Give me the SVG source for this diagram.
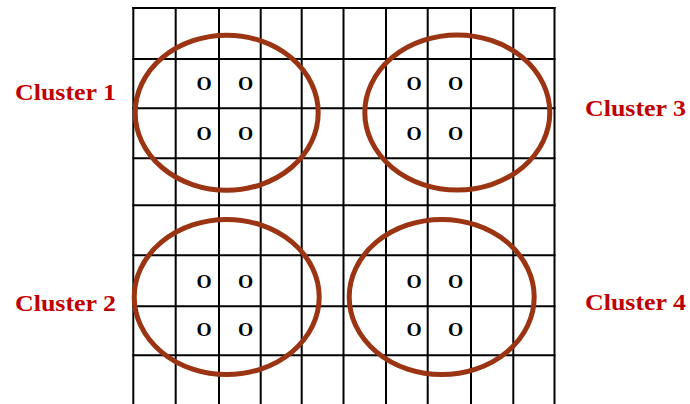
<svg xmlns="http://www.w3.org/2000/svg" width="690" height="404" viewBox="0 0 690 404">
<style>
.grid line{stroke:#000;stroke-width:2}
.ring{fill:none;stroke:#9a3413;stroke-width:5}
.o{font-family:"Liberation Serif",serif;font-weight:bold;font-size:19.5px;fill:#000;text-anchor:middle}
.lbl{font-family:"Liberation Serif",serif;font-weight:bold;font-size:22.5px;fill:#c00000}
</style>
<rect width="690" height="404" fill="#fff"/>
<g id="grid" class="grid">
<line x1="133.3" y1="7" x2="133.3" y2="404"/>
<line x1="175.7" y1="7" x2="175.7" y2="404"/>
<line x1="219" y1="7" x2="219" y2="404"/>
<line x1="260.7" y1="7" x2="260.7" y2="404"/>
<line x1="301.7" y1="7" x2="301.7" y2="404"/>
<line x1="343.5" y1="7" x2="343.5" y2="404"/>
<line x1="386" y1="7" x2="386" y2="404"/>
<line x1="427.7" y1="7" x2="427.7" y2="404"/>
<line x1="471" y1="7" x2="471" y2="404"/>
<line x1="513.3" y1="7" x2="513.3" y2="404"/>
<line x1="554.5" y1="7" x2="554.5" y2="404"/>
<line x1="132.3" y1="8" x2="555.5" y2="8"/>
<line x1="132.3" y1="59" x2="555.5" y2="59"/>
<line x1="132.3" y1="108.3" x2="555.5" y2="108.3"/>
<line x1="132.3" y1="158.3" x2="555.5" y2="158.3"/>
<line x1="132.3" y1="205.3" x2="555.5" y2="205.3"/>
<line x1="132.3" y1="255.3" x2="555.5" y2="255.3"/>
<line x1="132.3" y1="306.3" x2="555.5" y2="306.3"/>
<line x1="132.3" y1="355.3" x2="555.5" y2="355.3"/>
</g>
<g id="connectors"></g>
<g id="cluster1">
<ellipse class="ring" cx="226.7" cy="112.7" rx="91.5" ry="77.5"/>
<text class="o" x="204" y="90">O</text><text class="o" x="245.5" y="90">O</text>
<text class="o" x="204" y="139.5">O</text><text class="o" x="245.5" y="139.5">O</text>
<text class="lbl" x="15" y="100" textLength="101" lengthAdjust="spacingAndGlyphs">Cluster 1</text>
</g>
<g id="cluster3">
<ellipse class="ring" cx="457.3" cy="112.5" rx="92.5" ry="77.5"/>
<text class="o" x="414" y="90">O</text><text class="o" x="455.5" y="90">O</text>
<text class="o" x="414" y="139.5">O</text><text class="o" x="455.5" y="139.5">O</text>
<text class="lbl" x="585" y="115.5" textLength="101" lengthAdjust="spacingAndGlyphs">Cluster 3</text>
</g>
<g id="cluster2">
<ellipse class="ring" cx="226.7" cy="297" rx="92.5" ry="77.5"/>
<text class="o" x="204" y="287.5">O</text><text class="o" x="245.5" y="287.5">O</text>
<text class="o" x="204" y="336">O</text><text class="o" x="245.5" y="336">O</text>
<text class="lbl" x="15" y="310.5" textLength="101" lengthAdjust="spacingAndGlyphs">Cluster 2</text>
</g>
<g id="cluster4">
<ellipse class="ring" cx="441.7" cy="297" rx="92.5" ry="77.5"/>
<text class="o" x="414" y="287.5">O</text><text class="o" x="455.5" y="287.5">O</text>
<text class="o" x="414" y="336">O</text><text class="o" x="455.5" y="336">O</text>
<text class="lbl" x="585" y="310" textLength="101" lengthAdjust="spacingAndGlyphs">Cluster 4</text>
</g>
</svg>
